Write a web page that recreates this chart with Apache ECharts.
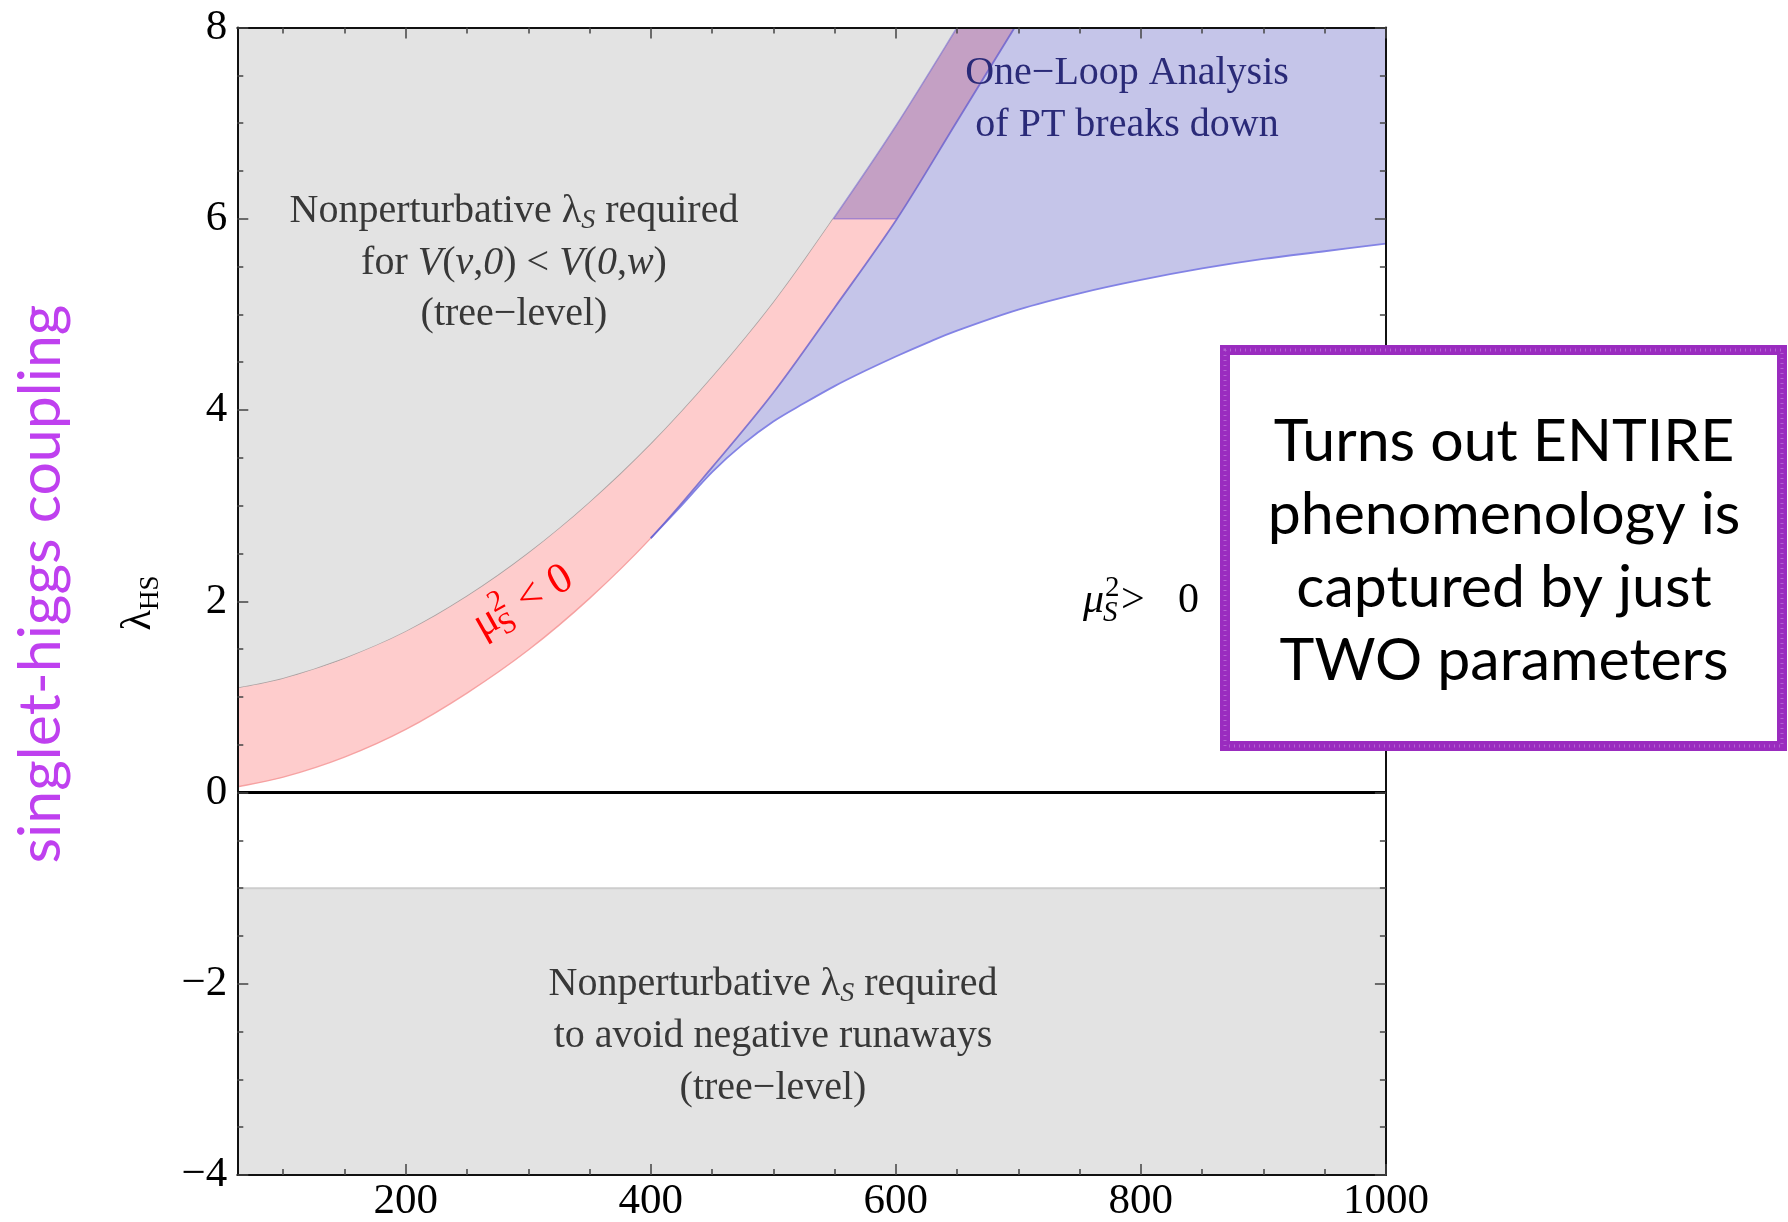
<!DOCTYPE html>
<html>
<head>
<meta charset="utf-8">
<script src="https://cdn.jsdelivr.net/npm/echarts@6/dist/echarts.min.js"></script>
<style>
  html, body { margin: 0; padding: 0; background: #ffffff; }
  #main { width: 1788px; height: 1222px; }
</style>
</head>
<body>
<div id="main"></div>
<script>
// Axis ranges: singlet mass m_S (GeV) and portal coupling λ_HS
const xRange = [62.5, 1000];
const yRange = [-4, 8];
const xMajorTicks = [200, 400, 600, 800, 1000];
const xMinorTicks = [100, 150, 250, 300, 350, 450, 500, 550, 650, 700, 750, 850, 900, 950];
const yMajorStep = 2;

// Upper edge of the μS² < 0 band (nonperturbative λS region lies above it)
const treeUpperX = [62.5, 100, 150, 200, 250, 300, 350, 400, 450, 500, 549, 600, 650];
const treeUpperY = [1.09, 1.19, 1.40, 1.68, 2.05, 2.50, 3.03, 3.64, 4.34, 5.12, 6.00, 6.97, 8.00];

// Lower edge of the μS² < 0 band
const treeLowerX = [62.5, 100, 150, 200, 250, 300, 350, 400, 450, 500, 550, 601, 650, 697];
const treeLowerY = [0.06, 0.16, 0.37, 0.66, 1.04, 1.49, 2.03, 2.66, 3.40, 4.18, 5.07, 6.00, 7.02, 8.00];

// Lower edge of the region where the one-loop analysis breaks down
const loopLowerX = [400, 425, 450, 475, 500, 525, 550, 575, 600, 625, 650, 700, 750, 800, 850, 900, 950, 1000];
const loopLowerY = [2.66, 3.00, 3.35, 3.64, 3.88, 4.07, 4.25, 4.41, 4.56, 4.70, 4.83, 5.05, 5.22, 5.36, 5.48, 5.58, 5.66, 5.74];

// Perturbativity cut on λ_HS and the negative-runaway bound
const loopCut = 6;
const runawayBound = -1;

// ---------------------------------------------------------------------------
const xMin = xRange[0], xMax = xRange[1], yMin = yRange[0], yMax = yRange[1];

function pairs(xs, ys) {
  const out = [];
  for (let i = 0; i < xs.length; i++) out.push([xs[i], ys[i]]);
  return out;
}

const upper = pairs(treeUpperX, treeUpperY);
const lower = pairs(treeLowerX, treeLowerY);
const loopLower = pairs(loopLowerX, loopLowerY);

const iUpperCut = treeUpperY.indexOf(loopCut);           // where the upper edge meets λ_HS = 6
const iLowerCut = treeLowerY.indexOf(loopCut);           // where the lower edge meets λ_HS = 6
const iLowerLoop = treeLowerX.indexOf(loopLowerX[0]);    // where the one-loop edge starts

// Cubic Bézier segments (Catmull-Rom) through a list of pixel points
function segments(pts) {
  const segs = [];
  for (let i = 0; i < pts.length - 1; i++) {
    const p0 = pts[i - 1] || pts[i], p1 = pts[i], p2 = pts[i + 1], p3 = pts[i + 2] || pts[i + 1];
    const c1 = [p1[0] + (p2[0] - p0[0]) / 6, p1[1] + (p2[1] - p0[1]) / 6];
    const c2 = [p2[0] - (p3[0] - p1[0]) / 6, p2[1] - (p3[1] - p1[1]) / 6];
    segs.push([p1, c1, c2, p2]);
  }
  return segs;
}
// Segments i..j-1 of a curve, optionally walked backwards
function run(segs, i, j, backwards) {
  const part = segs.slice(i, j);
  if (!backwards) return part;
  return part.reverse().map(s => [s[3], s[2], s[1], s[0]]);
}
function curveD(part) {
  return part.map(s => 'C' + s[1][0] + ' ' + s[1][1] + ' ' + s[2][0] + ' ' + s[2][1] + ' ' + s[3][0] + ' ' + s[3][1]).join(' ');
}
const M = p => 'M' + p[0] + ' ' + p[1] + ' ';
const L = p => ' L' + p[0] + ' ' + p[1] + ' ';

function region(z, build) {
  return {
    type: 'custom',
    z: z,
    silent: true,
    animation: false,
    xAxisIndex: 0,
    yAxisIndex: 0,
    data: [[xMin, yMin]],
    renderItem: function (params, api) {
      const px = list => list.map(p => api.coord(p));
      const U = segments(px(upper));
      const Lo = segments(px(lower));
      const B = segments(px(loopLower));
      return { type: 'group', children: build(px, U, Lo, B) };
    }
  };
}

function fillPath(d, fill) {
  return { type: 'path', shape: { pathData: d }, style: { fill: fill, stroke: null } };
}
function strokePath(d, stroke, width) {
  return { type: 'path', shape: { pathData: d }, style: { fill: null, stroke: stroke, lineWidth: width } };
}

const serif = 'Liberation Serif';
const sans = 'Lato';
const tickColor = '#444444';

function xAxisDef(position, ticks, len, withLine, withLabels) {
  return {
    type: 'value', position: position, min: xMin, max: xMax, z: 10,
    axisLine: { show: withLine, onZero: false, lineStyle: { color: '#111111', width: 2 } },
    axisTick: { show: true, inside: true, length: len, customValues: ticks, lineStyle: { color: tickColor, width: 1.5 } },
    axisLabel: withLabels ? {
      show: true, customValues: ticks, margin: 5,
      fontFamily: serif, fontSize: 43, color: '#000000',
      formatter: v => String(v)
    } : { show: false },
    splitLine: { show: false }
  };
}

function yAxisDef(position, withLabels) {
  return {
    type: 'value', position: position, min: yMin, max: yMax, interval: yMajorStep, z: 10,
    axisLine: { show: true, onZero: false, lineStyle: { color: '#111111', width: 2 } },
    axisTick: { show: true, inside: true, length: 11, lineStyle: { color: tickColor, width: 1.5 } },
    minorTick: { show: true, splitNumber: 4, length: 6, lineStyle: { color: tickColor, width: 1.5 } },
    axisLabel: withLabels ? {
      show: true, margin: 10, fontFamily: serif, fontSize: 43, color: '#000000',
      formatter: v => (v < 0 ? '\u2212' + (-v) : String(v))
    } : { show: false },
    splitLine: { show: false }
  };
}

const annoGray = '#383838';
const annoNavy = '#2a2a78';
const richSerif = (size, color) => ({
  r: { fontFamily: serif, fontSize: size, color: color, lineHeight: 48, verticalAlign: 'middle' },
  i: { fontFamily: serif, fontSize: size, fontStyle: 'italic', color: color, lineHeight: 48, verticalAlign: 'middle' },
  s: { fontFamily: serif, fontSize: 28, fontStyle: 'italic', color: color, lineHeight: 28, verticalAlign: 'bottom' }
});

function line(x, y, text, size, color) {
  return {
    type: 'text', x: x, y: y, z: 30, silent: true,
    style: { text: text, rich: richSerif(size, color), align: 'center', verticalAlign: 'middle', fill: color }
  };
}

// μ_S^2 with a sign; local origin is the centre of the baseline.
// offs = [subscript/superscript start, sign start, zero start, total width]
function signLabel(x, y, rot, sign, color, italic, size, offs) {
  const st = italic ? 'italic' : 'normal';
  const sub = Math.round(size * 0.7);
  const mid = f => -0.3375 * f;
  const base = { fontFamily: serif, fill: color, align: 'left', verticalAlign: 'middle' };
  const x0 = -offs[3] / 2;
  return {
    type: 'group', x: x, y: y, rotation: rot, z: 30, silent: true,
    children: [
      { type: 'text', z: 30, x: x0, y: mid(size), style: Object.assign({ text: '\u03bc', fontSize: size, fontStyle: st }, base) },
      { type: 'text', z: 30, x: x0 + offs[0], y: 8 + mid(sub), style: Object.assign({ text: 'S', fontSize: sub, fontStyle: st }, base) },
      { type: 'text', z: 30, x: x0 + offs[0] + 2, y: -17 + mid(sub), style: Object.assign({ text: '2', fontSize: sub }, base) },
      { type: 'text', z: 30, x: x0 + offs[1], y: mid(size), style: Object.assign({ text: sign, fontSize: size }, base) },
      { type: 'text', z: 30, x: x0 + offs[2], y: mid(size), style: Object.assign({ text: '0', fontSize: size }, base) }
    ]
  };
}

const option = {
  backgroundColor: '#ffffff',
  animation: false,
  grid: { left: 237.3, top: 27.5, right: 402.1, bottom: 47, containLabel: false, outerBoundsMode: 'none' },
  xAxis: [
    xAxisDef('bottom', xMajorTicks, 11, true, true),
    xAxisDef('bottom', xMinorTicks, 6, false, false),
    xAxisDef('top', xMajorTicks, 11, true, false),
    xAxisDef('top', xMinorTicks, 6, false, false)
  ],
  yAxis: [yAxisDef('left', true), yAxisDef('right', false)],
  series: [
    // runaway bound region
    region(1, (px) => {
      const c = px([[xMin, yMin], [xMax, yMin], [xMax, runawayBound], [xMin, runawayBound]]);
      return [
        fillPath(M(c[0]) + L(c[1]) + L(c[2]) + L(c[3]) + 'Z', '#e3e3e3'),
        strokePath(M(c[3]) + L(c[2]), '#cdcdcd', 2)
      ];
    }),
    // tree-level vacuum-ordering bound
    region(2, (px, U) => {
      const corner = px([[xMin, yMax]])[0];
      return [
        fillPath(M(U[0][0]) + curveD(U) + L(corner) + 'Z', '#e3e3e3'),
        strokePath(M(U[0][0]) + curveD(run(U, 0, iUpperCut)), 'rgba(165,155,155,0.9)', 1.6)
      ];
    }),
    // μS² < 0 band
    region(3, (px, U, Lo) => [
      fillPath(M(U[0][0]) + curveD(U) + L(Lo[Lo.length - 1][3]) + curveD(run(Lo, 0, Lo.length, true)) + 'Z', '#fecccc'),
      strokePath(M(Lo[0][0]) + curveD(run(Lo, 0, iLowerLoop)), 'rgba(245,150,150,0.85)', 1.4)
    ]),
    // one-loop breakdown region
    region(4, (px, U, Lo, B) => {
      const corner = px([[xMax, yMax]])[0];
      const d = M(B[0][0]) + curveD(B) + L(corner) + L(U[U.length - 1][3]) +
        curveD(run(U, iUpperCut, U.length, true)) + L(Lo[iLowerCut][0]) +
        curveD(run(Lo, iLowerLoop, iLowerCut, true)) + 'Z';
      return [
        fillPath(d, 'rgba(44,44,175,0.275)'),
        strokePath(M(B[0][0]) + curveD(B), 'rgba(125,125,228,0.95)', 1.8),
        strokePath(M(Lo[iLowerLoop][0]) + curveD(run(Lo, iLowerLoop, Lo.length)), 'rgba(105,95,205,0.8)', 1.8),
        strokePath(M(U[iUpperCut][0]) + L(Lo[iLowerCut][0]), 'rgba(130,105,210,0.6)', 1.6),
        strokePath(M(U[iUpperCut][0]) + curveD(run(U, iUpperCut, U.length)), 'rgba(120,110,205,0.6)', 1.6)
      ];
    }),
    {
      type: 'line', z: 6, silent: true, symbol: 'none', animation: false,
      xAxisIndex: 0, yAxisIndex: 0,
      data: [[xMin, 0], [xMax, 0]],
      lineStyle: { color: '#000000', width: 3 }
    }
  ],
  graphic: { elements: [
    // left-side title
    {
      type: 'text', x: 41, y: 584, rotation: Math.PI / 2, z: 30, silent: true,
      style: { text: 'singlet-higgs coupling', fontFamily: sans, fontSize: 59, fill: '#bf40ef', align: 'center', verticalAlign: 'middle' }
    },
    // axis name λ_HS
    {
      type: 'text', x: 139, y: 603, rotation: Math.PI / 2, z: 30, silent: true,
      style: {
        text: '{a|\u03bb}{b|HS}', align: 'center', verticalAlign: 'middle',
        rich: {
          a: { fontFamily: serif, fontSize: 42, color: '#000', lineHeight: 50, verticalAlign: 'middle' },
          b: { fontFamily: serif, fontSize: 27, color: '#000', lineHeight: 27, verticalAlign: 'bottom' }
        }
      }
    },
    // upper-left region labels
    line(514, 211, '{r|Nonperturbative \u03bb}{s|S}{r| required}', 40, annoGray),
    line(514, 263.5, '{r|for }{i|V}{r|(}{i|v}{r|,}{i|0}{r|) < }{i|V}{r|(}{i|0}{r|,}{i|w}{r|)}', 40, annoGray),
    line(514, 314, '{r|(tree\u2212level)}', 40, annoGray),
    // one-loop labels
    line(1127, 73, '{r|One\u2212Loop Analysis}', 40, annoNavy),
    line(1127, 125, '{r|of PT breaks down}', 40, annoNavy),
    // runaway labels
    line(773, 984, '{r|Nonperturbative \u03bb}{s|S}{r| required}', 40, annoGray),
    line(773, 1036, '{r|to avoid negative runaways}', 40, annoGray),
    line(773, 1088, '{r|(tree\u2212level)}', 40, annoGray),
    // sign of μS²
    signLabel(531, 614, 0.515, '<', '#ff0000', false, 43, [21, 50, 86, 109]),
    signLabel(1139, 615, 0, '>', '#000000', true, 42, [20, 38, 95, 112]),
    // callout box
    {
      type: 'rect', z: 40, silent: true,
      shape: { x: 1225, y: 350, width: 557, height: 396 },
      style: { fill: '#ffffff', stroke: '#9a2cbf', lineWidth: 10 }
    },
    {
      type: 'rect', z: 41, silent: true,
      shape: { x: 1225, y: 350, width: 557, height: 396 },
      style: { fill: null, stroke: 'rgba(205,150,230,0.5)', lineWidth: 3, lineDash: [1, 4] }
    },
    {
      type: 'text', x: 1504, y: 551.5, z: 42, silent: true,
      style: {
        text: 'Turns out ENTIRE\nphenomenology is\ncaptured by just\nTWO parameters',
        fontFamily: sans, fontSize: 59, lineHeight: 73, fill: '#000000',
        align: 'center', verticalAlign: 'middle'
      }
    }
  ] }
};

const chart = echarts.init(document.getElementById('main'), null, { renderer: 'canvas', width: 1788, height: 1222 });
chart.setOption(option);
</script>
</body>
</html>
